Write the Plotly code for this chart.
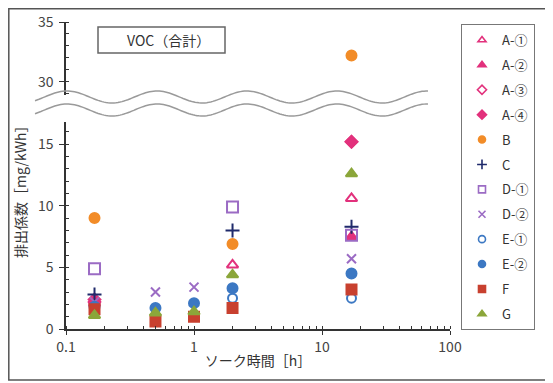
import numpy as np
import plotly.graph_objects as go

# ---- data ----
hours = [0.167, 0.5, 1, 2, 17]
series_names = ["A-①", "A-②", "A-③", "A-④", "B", "C", "D-①", "D-②", "E-①", "E-②", "F", "G"]
A1 = [2.3, None, None, 5.2, 10.6]
A2 = [2.1, None, None, None, 7.5]
A3 = [2.4, None, None, None, 15.2]
A4 = [2.2, None, None, None, 15.2]
B = [9.0, None, None, 6.9, 32.2]
C = [2.8, None, None, 8.0, 8.3]
D1 = [4.9, None, None, 9.9, 7.6]
D2 = [2.2, 3.0, 3.4, None, 5.7]
E1 = [1.8, None, None, 2.5, 2.5]
E2 = [1.8, 1.7, 2.1, 3.3, 4.5]
F = [1.6, 0.6, 1.0, 1.7, 3.2]
G = [1.1, 1.3, 1.4, 4.4, 12.6]
values = [A1, A2, A3, A4, B, C, D1, D2, E1, E2, F, G]

pink = "#e2317c"
colors = [pink, pink, pink, pink, "#f28c28", "#1f2a6b", "#9b6bc4", "#9b6bc4",
          "#3c78c3", "#3c78c3", "#c8402f", "#8ba63a"]
symbols = ["triangle-up-open", "triangle-up", "diamond-open", "diamond", "circle",
           "cross-thin", "square-open", "x-thin", "circle-open", "circle", "square", "triangle-up"]
sizes = [10, 10, 9, 9, 10, 10, 11, 9, 9, 10, 10, 10]

# page has an 8px body margin: figure is placed at (8, 8) in the window
OFF = 8
W, H = 553 - OFF, 383 - OFF
PLOT_L, PLOT_R, PLOT_T, PLOT_B = 66, 550, 22, 329   # window pixels
L, R, T, Bm = PLOT_L - OFF, 553 - PLOT_R, PLOT_T - OFF, 383 - PLOT_B
PW, PH = PLOT_R - PLOT_L, PLOT_B - PLOT_T
X_END = 450  # window pixel where x axis ends


def px(xw):
    return (xw - PLOT_L) / PW


def py(yw):
    return (PLOT_B - yw) / PH


fig = go.Figure()
for i, name in enumerate(series_names):
    mk = dict(symbol=symbols[i], size=sizes[i], color=colors[i],
              line=dict(width=2, color=colors[i]))
    for ax in ("y", "y2"):
        fig.add_trace(go.Scatter(x=hours, y=values[i], mode="markers", name=name,
                                 marker=mk, showlegend=False, hoverinfo="x+y+name",
                                 xaxis="x", yaxis=ax))
# legend-only entries (smaller symbols, as in the original legend)
for i, name in enumerate(series_names):
    fig.add_trace(go.Scatter(x=[None], y=[None], mode="markers", name=name,
                             marker=dict(symbol=symbols[i], size=7, color=colors[i],
                                         line=dict(width=1.6, color=colors[i])),
                             legendgroup=name, xaxis="x", yaxis="y"))

axis_col = "#333333"
tick_font = dict(size=14, color="#444444", family="Noto Sans CJK JP")

shapes = []
# wavy break lines
xs = np.linspace(35, 428, 200)
for c in (97, 110):
    ys = c - 6 * np.cos(2 * np.pi * (xs - 157) / 90)
    path = "M " + " L ".join(f"{px(a):.4f},{py(b):.4f}" for a, b in zip(xs, ys))
    shapes.append(dict(type="path", path=path, xref="paper", yref="paper",
                       line=dict(color="#9a9a9a", width=1.5)))
# title box
shapes.append(dict(type="rect", xref="paper", yref="paper",
                   x0=px(98), x1=px(225), y0=py(53), y1=py(27),
                   line=dict(color="#666666", width=1.5), fillcolor="white"))
# outer frame
shapes.append(dict(type="rect", xref="paper", yref="paper",
                   x0=px(OFF + 0.8), x1=px(549), y0=py(380), y1=py(OFF + 0.8),
                   line=dict(color="#555555", width=1.5)))

fig.update_layout(
    width=W, height=H,
    margin=dict(l=L, r=R, t=T, b=Bm, autoexpand=False),
    paper_bgcolor="white", plot_bgcolor="white",
    font=dict(family="Noto Sans CJK JP", color="#333333"),
    showlegend=True,
    legend=dict(x=px(461), y=py(24), xanchor="left", yanchor="top",
                bordercolor="#777777", borderwidth=1, bgcolor="white",
                font=dict(size=13, color="#333333"), tracegroupgap=5,
                itemwidth=30, itemclick=False),
    xaxis=dict(type="log", range=[-1, 2], domain=[0, px(X_END)], anchor="y",
               showgrid=False, automargin=False,
               showline=True, linecolor=axis_col, linewidth=1.5,
               ticks="outside", ticklen=4, tickcolor=axis_col,
               tickvals=[0.1, 1, 10, 100], ticktext=["0.1", "1", "10", "100"],
               tickfont=tick_font, zeroline=False,
               minor=dict(ticks="inside", ticklen=3, tickcolor=axis_col, dtick="D1"),
               title=dict(text="ソーク時間［h］", font=dict(size=14, color="#333333"), standoff=2)),
    yaxis=dict(domain=[0, py(122)], range=[0, 16.8], anchor="x", showgrid=False,
               automargin=False,
               showline=True, linecolor=axis_col, linewidth=1.5, zeroline=False,
               ticks="outside", ticklen=5, tickcolor=axis_col, dtick=5,
               tickfont=tick_font, ticklabelstandoff=3,
               minor=dict(ticks="inside", ticklen=3, tickcolor=axis_col, dtick=1)),
    yaxis2=dict(domain=[py(95), 1], range=[28.9, 35], anchor="x", showgrid=False,
                automargin=False,
                showline=True, linecolor=axis_col, linewidth=1.5, zeroline=False,
                ticks="outside", ticklen=5, tickcolor=axis_col,
                tickvals=[30, 35], tickfont=tick_font, ticklabelstandoff=3,
                minor=dict(ticks="inside", ticklen=3, tickcolor=axis_col, dtick=1)),
    shapes=shapes,
    annotations=[
        dict(text="VOC（合計）", xref="paper", yref="paper", x=px(168), y=py(40),
             xanchor="center", yanchor="middle",
             showarrow=False, font=dict(size=14, color="#333333")),
        dict(text="排出係数［mg/kWh］", xref="paper", yref="paper", x=px(20), y=py(188),
             xanchor="center", yanchor="middle",
             textangle=-90, showarrow=False, font=dict(size=14, color="#333333")),
    ],
)

fig.write_html("out.html")
